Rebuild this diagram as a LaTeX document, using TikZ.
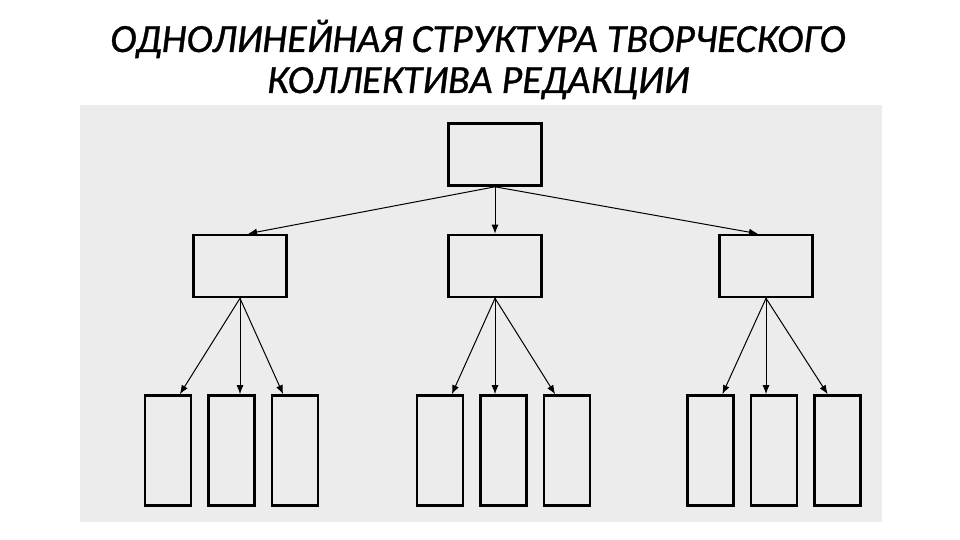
\documentclass[tikz,border=0pt]{standalone}
\usepackage{fontspec}
\setmainfont{Carlito}[ItalicFeatures={FakeBold=0.8}]
\usetikzlibrary{arrows.meta,positioning}

\begin{document}
\begin{tikzpicture}[x=1pt,y=-1pt,
  heading/.style={anchor=base,inner sep=0pt,font=\itshape\fontsize{40}{41}\selectfont},
  box/.style={rectangle,draw,line width=2.6pt,minimum width=93pt,minimum height=62pt,inner sep=0pt},
  col/.style={rectangle,draw,line width=2.6pt,minimum width=46pt,minimum height=110pt,inner sep=0pt},
  link/.style={-{Latex[length=9pt,width=7pt]},line width=1pt}]
  \useasboundingbox (0,0) rectangle (960,540);
  \fill[gray!15] (80,105) rectangle (882,522);
  \node[heading] (title1) at (478,52) {ОДНОЛИНЕЙНАЯ СТРУКТУРА ТВОРЧЕСКОГО};
  \node[heading] (title2) at (478,93) {КОЛЛЕКТИВА РЕДАКЦИИ};

  \node[box] (top) at (495,154.5) {};
  \node[box] (ml) at (240,266) {};
  \node[box] (mc) at (495,266) {};
  \node[box] (mr) at (766,266) {};

  \node[col] (b2) at (231.5,450.5) {};
  \node[col, left = 15pt of b2] (b1) {};
  \node[col, right = 15pt of b2] (b3) {};
  \node[col] (b5) at (503.5,450.5) {};
  \node[col, left = 15pt of b5] (b4) {};
  \node[col, right = 15pt of b5] (b6) {};
  \node[col] (b8) at (774,450.5) {};
  \node[col, left = 15pt of b8] (b7) {};
  \node[col, right = 15pt of b8] (b9) {};

  \draw[link] (top.south) -- (ml.76);
  \draw[link] (top.south) -- (mc.north);
  \draw[link] (top.south) -- (mr.104);

  \draw[link] (ml.south) -- (b1.78);
  \draw[link] (ml.south) -- (ml.south |- b2.north);
  \draw[link] (ml.south) -- (b3.102);
  \draw[link] (mc.south) -- (b4.78);
  \draw[link] (mc.south) -- (mc.south |- b5.north);
  \draw[link] (mc.south) -- (b6.102);
  \draw[link] (mr.south) -- (b7.78);
  \draw[link] (mr.south) -- (mr.south |- b8.north);
  \draw[link] (mr.south) -- (b9.100);

\end{tikzpicture}
\end{document}
